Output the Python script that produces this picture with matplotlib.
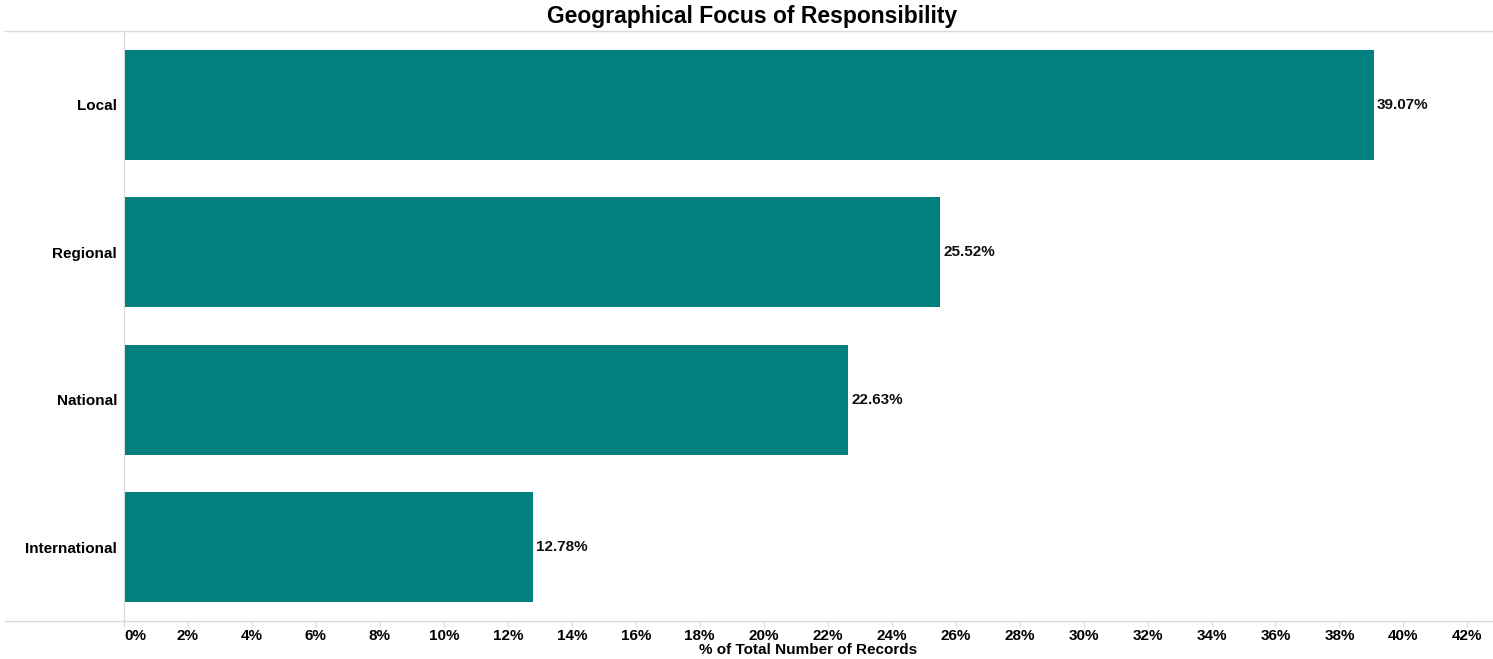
import matplotlib.pyplot as plt
from matplotlib.lines import Line2D

plt.rcParams["font.family"] = ["Liberation Sans", "DejaVu Sans"]
plt.rcParams["font.weight"] = "bold"

# 各地理范围所占记录百分比
categories = ["Local", "Regional", "National", "International"]
shares = [39.07, 25.52, 22.63, 12.78]
ticks = list(range(0, 43, 2))

fig = plt.figure(figsize=(14.93, 6.59), dpi=100)
W, H = 1493, 659
ax = fig.add_axes([124 / W, 38 / H, (W - 124) / W, 590 / H])

pos = list(range(len(categories)))
ax.barh(pos, shares, height=0.746, color="#008080")
ax.set_ylim(len(categories) - 0.5, -0.5)
ax.set_xlim(0, 42.8)

for y, v in zip(pos, shares):
    ax.text(v + 0.1, y, f"{v:.2f}%", va="center", ha="left",
            fontsize=11, fontweight="bold", color="#111111")

ax.set_yticks(pos)
ax.set_yticklabels(categories, fontsize=11, fontweight="bold")
ax.tick_params(axis="y", length=0, pad=5)
ax.set_xticks(ticks)
ax.set_xticklabels([f"{t}%" for t in ticks], fontsize=11, fontweight="bold")
ax.tick_params(axis="x", length=4, color="#d9d9d9", pad=2)
ax.get_xticklabels()[0].set_horizontalalignment("left")
ax.set_xlabel("% of Total Number of Records", fontsize=11, fontweight="bold", labelpad=0)

for s in ["top", "right", "bottom"]:
    ax.spines[s].set_visible(False)
ax.spines["left"].set_color("#d9d9d9")

# 上下两条贯穿整幅的分隔线
for yy in (31, 621):
    fig.add_artist(Line2D([5 / W, 1], [1 - yy / H, 1 - yy / H], color="#d9d9d9", lw=1))

fig.text(752 / W, 1 - 16 / H, "Geographical Focus of Responsibility",
         ha="center", va="center", fontsize=16.5, fontweight="bold")

fig.savefig("out.png", dpi=100)
